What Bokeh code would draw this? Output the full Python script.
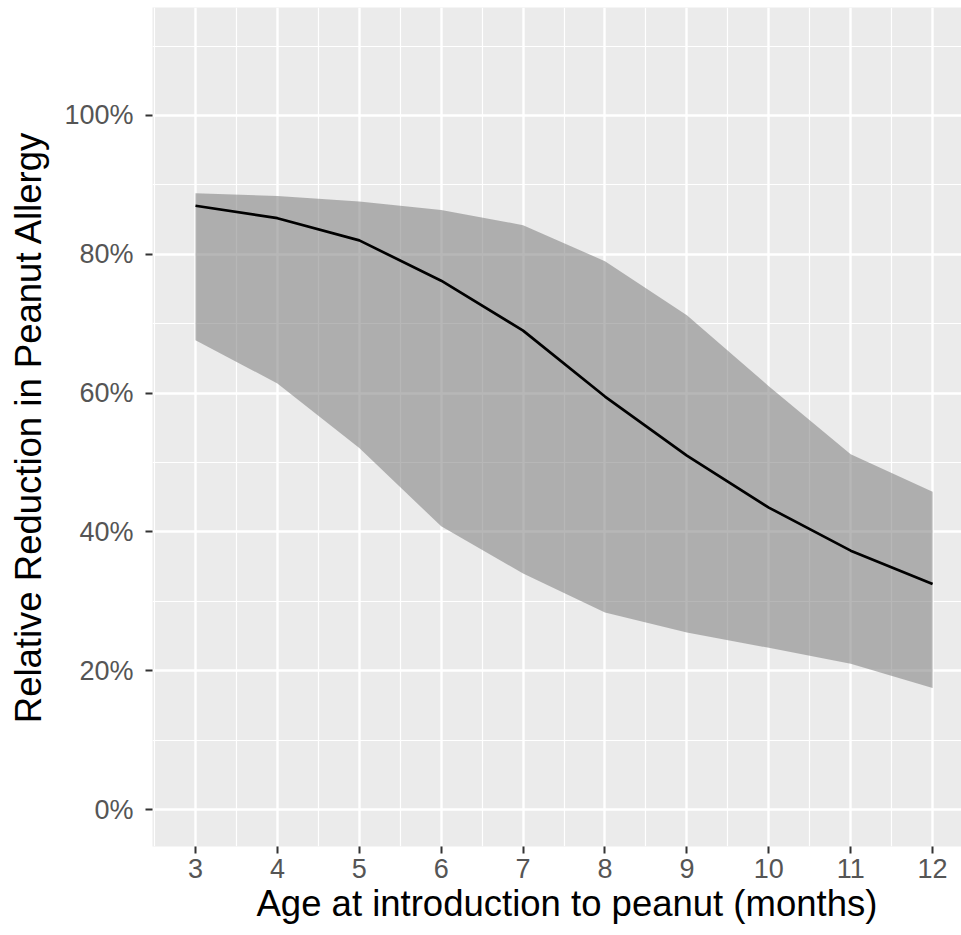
from bokeh.plotting import figure
from bokeh.models import FixedTicker, Range1d, ColumnDataSource, Title
from bokeh.embed import file_html
from bokeh.resources import INLINE

# ---- data ----
age_months = [3, 4, 5, 6, 7, 8, 9, 10, 11, 12]
reduction_pct = [87.0, 85.2, 82.0, 76.2, 69.0, 59.5, 51.0, 43.5, 37.3, 32.5]
upper_pct = [88.8, 88.4, 87.6, 86.4, 84.2, 79.0, 71.2, 61.0, 51.2, 45.8]
lower_pct = [67.6, 61.4, 52.1, 40.8, 34.0, 28.4, 25.5, 23.3, 21.0, 17.5]

x_ticks = [3, 4, 5, 6, 7, 8, 9, 10, 11, 12]
x_minor = [2.5, 3.5, 4.5, 5.5, 6.5, 7.5, 8.5, 9.5, 10.5, 11.5, 12.5]
y_ticks = [0, 20, 40, 60, 80, 100]
y_minor = [10, 30, 50, 70, 90, 110]
y_tick_labels = ["0%", "20%", "40%", "60%", "80%", "100%"]

x_title = "Age at introduction to peanut (months)"
y_title = "Relative Reduction in Peanut Allergy"

src = ColumnDataSource(dict(x=age_months, y=reduction_pct, lo=lower_pct, hi=upper_pct))

p = figure(width=961, height=935, output_backend="svg", toolbar_location=None,
           x_range=Range1d(2.475, 12.353), y_range=Range1d(-5.33, 115.56),
           min_border_left=152, min_border_right=0, min_border_top=7, min_border_bottom=89)

p.background_fill_color = "#EBEBEB"
p.border_fill_color = "white"
p.outline_line_color = None

p.varea(x="x", y1="lo", y2="hi", source=src, fill_color="#808080", fill_alpha=0.57)
p.line(x="x", y="y", source=src, line_color="black", line_width=2.7)

p.xaxis.ticker = FixedTicker(ticks=x_ticks, minor_ticks=x_minor)
p.yaxis.ticker = FixedTicker(ticks=y_ticks, minor_ticks=y_minor)
p.yaxis.major_label_overrides = {t: l for t, l in zip(y_ticks, y_tick_labels)}

for ax in (p.xaxis, p.yaxis):
    ax.axis_line_color = None
    ax.major_tick_line_color = "#333333"
    ax.major_tick_line_width = 2
    ax.major_tick_out = 7
    ax.major_tick_in = 0
    ax.minor_tick_line_color = None
    ax.major_label_text_font = "Liberation Sans"
    ax.major_label_text_font_size = "27px"
    ax.major_label_text_color = "#555555"
    ax.axis_label_text_font = "Liberation Sans"
    ax.axis_label_text_font_size = "36.5px"
    ax.axis_label_text_font_style = "normal"
    ax.axis_label_text_color = "black"

p.yaxis.axis_label = y_title
p.xaxis.major_label_standoff = 5
p.yaxis.major_label_standoff = 12
p.yaxis.axis_label_standoff = 12

xt = Title(text=x_title, align="left", offset=104, standoff=0,
           text_font="Liberation Sans", text_font_size="36.5px",
           text_font_style="normal", text_color="black")
p.add_layout(xt, "below")

for g in (p.xgrid, p.ygrid):
    g.grid_line_color = "white"
    g.grid_line_width = 2.4
    g.minor_grid_line_color = "white"
    g.minor_grid_line_width = 1.2

open("out.html", "w").write(file_html(p, INLINE))
